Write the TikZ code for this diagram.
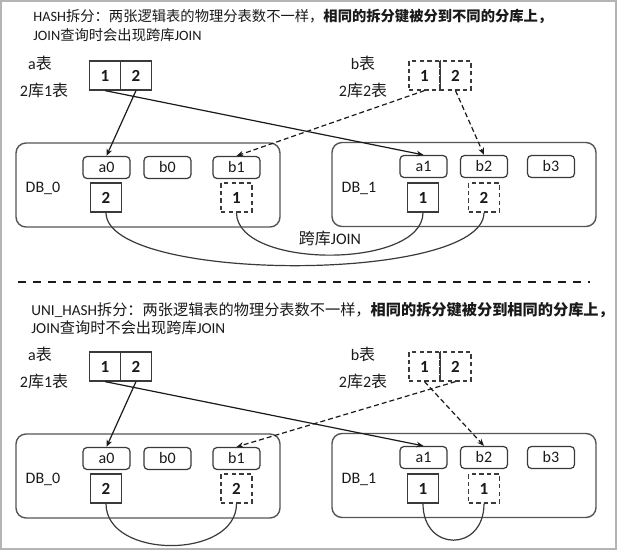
\documentclass[tikz,border=0pt]{standalone}
\usepackage{fontspec}
\setmainfont{Carlito}
\newfontfamily\cjk{Noto Sans CJK SC}
\usetikzlibrary{arrows.meta}
\definecolor{ink}{HTML}{1A1A1A}
\definecolor{boxline}{HTML}{3A3A3A}
\definecolor{dbline}{HTML}{555555}
\definecolor{framegray}{HTML}{B4B4B4}
\tikzset{
  cell/.style={draw=boxline, line width=0.6pt, minimum width=15.5pt, minimum height=14.5pt, inner sep=0pt, font=\fontsize{8.5}{9}\selectfont\bfseries},
  dcell/.style={cell, dash pattern=on 2.2pt off 1.6pt},
  tbl/.style={draw=boxline, line width=0.6pt, rounded corners=2pt, minimum width=23.5pt, minimum height=11pt, inner sep=0pt, font=\fontsize{8}{9}\selectfont},
  dbbox/.style={draw=dbline, line width=0.7pt, rounded corners=5pt, minimum width=132pt, minimum height=42pt, inner sep=0pt},
  lbl/.style={font=\fontsize{8}{9}\selectfont, inner sep=0pt},
  ttl/.style={anchor=base west, font=\fontsize{#1}{9}\selectfont, inner sep=0pt},
  ttl/.default=7.6,
  link/.style={->, ink, line width=0.6pt},
  dlink/.style={link, dash pattern=on 2.5pt off 1.5pt},
  joinline/.style={boxline, line width=0.6pt}
}
\begin{document}
\begin{tikzpicture}[x=0.5pt, y=-0.5pt, text=ink, >={Stealth[length=3.5pt,width=2.8pt]}]
\fill[white] (0,0) rectangle (617,551);
\useasboundingbox (0,0) rectangle (617,551);
\draw[framegray, line width=1pt] (1,1) rectangle (616,549);

\node[ttl=7.15] (hT1) at (33,22) {HASH{\cjk 拆分：两张逻辑表的物理分表数不一样，\bfseries 相同的拆分键被分到不同的分库上，}};
\node[ttl=7.15] (hT2) at (33,41) {JOIN{\cjk 查询时会出现跨库}JOIN};
\node[ttl] (uT1) at (31,315) {UNI\_HASH{\cjk 拆分：两张逻辑表的物理分表数不一样，\bfseries 相同的拆分键被分到相同的分库上，}};
\node[ttl] (uT2) at (31,334) {JOIN{\cjk 查询时不会出现跨库}JOIN};

\draw[ink, line width=1.4pt, dash pattern=on 4pt off 3.5pt] (18,282) -- (590,282);

% both layouts share the same shards, only b's placement differs
\foreach \s/\dy/\p/\q in {h/0/1/2, u/291/2/1}{
  \node[dbbox] (\s db0) at (148,185+\dy) {};
  \node[dbbox] (\s db1) at (464,184.5+\dy) {};
  \node[lbl] (\s lab0) at (43,188+\dy) {DB\_0};
  \node[lbl] (\s lab1) at (359,188+\dy) {DB\_1};
  \foreach \t/\x in {a0/106.5, b0/167.5, b1/236.5}{\node[tbl] (\s\t) at (\x,167.5+\dy) {\t};}
  \foreach \t/\x in {a1/423.5, b2/484, b3/551}{\node[tbl] (\s\t) at (\x,166.5+\dy) {\t};}
  \node[cell]  (\s s0) at (106,197.5+\dy) {2};
  \node[dcell] (\s s1) at (236.5,197.5+\dy) {\p};
  \node[cell]  (\s s2) at (423,197.5+\dy) {1};
  \node[dcell] (\s s3) at (484,197.5+\dy) {\q};

  \node[lbl] (\s an) at (40,63+\dy) {a{\cjk 表}};
  \node[lbl] (\s ac) at (44,90+\dy) {2{\cjk 库}1{\cjk 表}};
  \node[cell] (\s A1) at (105,75.5+\dy) {1};
  \node[cell] (\s A2) at (136,75.5+\dy) {2};
  \node[lbl] (\s bn) at (363,63+\dy) {b{\cjk 表}};
  \node[lbl] (\s bc) at (363,90+\dy) {2{\cjk 库}2{\cjk 表}};
  \node[dcell] (\s B1) at (424.5,75.5+\dy) {1};
  \node[dcell] (\s B2) at (455.5,75.5+\dy) {2};
  \draw[boxline, line width=0.6pt] (\s B1.north east) -- (\s B1.south east);

  \draw[link] (\s A1.south) -- (\s a1.north);
  \draw[link] (\s A2.south) -- (\s a0.north);
  \draw[dlink] (\s B\p.south) -- (\s b1.north);
  \draw[dlink] (\s B\q.south) -- (\s b2.north);
}

\draw[joinline] (hs0.south) to[out=-90, in=-90, looseness=0.48] (hs3.south);
\draw[joinline] (hs1.south) to[out=-90, in=-90, looseness=0.78] (hs2.south);
\node[lbl] (cross) at (330,238) {{\cjk 跨库}JOIN};
\draw[joinline] (us0.south) to[out=-90, in=-90, looseness=1.1] (us1.south);
\draw[joinline] (us2.south) to[out=-90, in=-90, looseness=2.05] (us3.south);
\end{tikzpicture}
\end{document}
